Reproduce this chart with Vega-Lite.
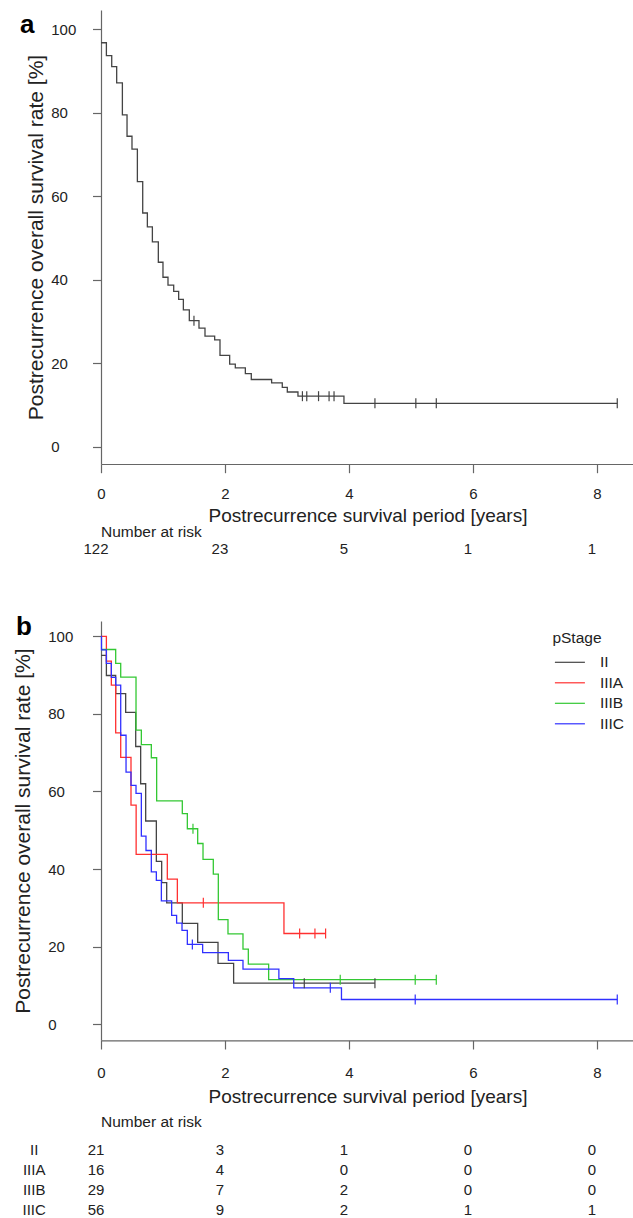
{
  "$schema": "https://vega.github.io/schema/vega-lite/v6.json",
  "background": "white",
  "padding": {"left": 12, "top": 10, "right": 0, "bottom": 0},
  "bounds": "flush",
  "spacing": 60,
  "resolve": {"scale": {"color": "independent", "stroke": "independent"}, "legend": {"color": "independent", "stroke": "independent"}},
  "config": {
    "font": "Liberation Sans",
    "view": {"stroke": null},
    "axis": {"grid": false, "domainColor": "#666666", "tickColor": "#666666", "domainWidth": 1.2, "tickWidth": 1.2, "labelColor": "#222222", "titleColor": "#222222", "labelFontSize": 15, "titleFontWeight": "normal", "labelFlush": false, "labelOverlap": false},
    "legend": {"titleFontWeight": "normal", "titleColor": "#222222", "labelColor": "#222222"},
    "title": {"color": "#000000"}
  },
  "datasets": {
    "ka": [
      {"t": 0, "s": 96.8}, {"t": 0.087, "s": 93.7}, {"t": 0.173, "s": 91.1}, {"t": 0.253, "s": 87.2},
      {"t": 0.345, "s": 79.5}, {"t": 0.42, "s": 74.4}, {"t": 0.5, "s": 71.3}, {"t": 0.587, "s": 63.5},
      {"t": 0.673, "s": 56.0}, {"t": 0.748, "s": 52.7}, {"t": 0.829, "s": 49.1}, {"t": 0.925, "s": 44.2},
      {"t": 1.0, "s": 40.6}, {"t": 1.081, "s": 38.7}, {"t": 1.173, "s": 37.2}, {"t": 1.253, "s": 35.3},
      {"t": 1.329, "s": 32.8}, {"t": 1.425, "s": 30.2}, {"t": 1.581, "s": 28.4}, {"t": 1.678, "s": 26.5},
      {"t": 1.834, "s": 25.6}, {"t": 1.92, "s": 21.9}, {"t": 2.076, "s": 19.8}, {"t": 2.167, "s": 18.9},
      {"t": 2.329, "s": 17.5}, {"t": 2.425, "s": 16.1}, {"t": 2.753, "s": 15.3}, {"t": 2.925, "s": 14.2},
      {"t": 3.006, "s": 13.1}, {"t": 3.178, "s": 12.1}, {"t": 3.92, "s": 10.4}, {"t": 8.33, "s": 10.4}
    ],
    "ca": [
      {"t": 1.5, "s": 30.2}, {"t": 3.25, "s": 12.1}, {"t": 3.32, "s": 12.1}, {"t": 3.51, "s": 12.1},
      {"t": 3.68, "s": 12.1}, {"t": 3.76, "s": 12.1}, {"t": 4.42, "s": 10.4}, {"t": 5.08, "s": 10.4},
      {"t": 5.41, "s": 10.4}, {"t": 8.33, "s": 10.4}
    ],
    "kb": [
      {"stage": "II", "t": 0, "s": 95.1}, {"stage": "II", "t": 0.087, "s": 89.9}, {"stage": "II", "t": 0.237, "s": 85.2},
      {"stage": "II", "t": 0.398, "s": 80.4}, {"stage": "II", "t": 0.56, "s": 71.6}, {"stage": "II", "t": 0.64, "s": 62.0},
      {"stage": "II", "t": 0.721, "s": 52.4}, {"stage": "II", "t": 0.893, "s": 42.0}, {"stage": "II", "t": 0.979, "s": 36.5},
      {"stage": "II", "t": 1.06, "s": 31.3}, {"stage": "II", "t": 1.312, "s": 26.0}, {"stage": "II", "t": 1.56, "s": 21.1},
      {"stage": "II", "t": 1.888, "s": 15.7}, {"stage": "II", "t": 2.14, "s": 10.6}, {"stage": "II", "t": 4.42, "s": 10.6},
      {"stage": "IIIA", "t": 0, "s": 100}, {"stage": "IIIA", "t": 0.087, "s": 93.6}, {"stage": "IIIA", "t": 0.167, "s": 87.4},
      {"stage": "IIIA", "t": 0.237, "s": 75.1}, {"stage": "IIIA", "t": 0.318, "s": 68.8}, {"stage": "IIIA", "t": 0.484, "s": 56.5},
      {"stage": "IIIA", "t": 0.567, "s": 43.8}, {"stage": "IIIA", "t": 1.07, "s": 37.4}, {"stage": "IIIA", "t": 1.232, "s": 31.3},
      {"stage": "IIIA", "t": 2.952, "s": 23.4}, {"stage": "IIIA", "t": 3.624, "s": 23.4},
      {"stage": "IIIB", "t": 0, "s": 96.6}, {"stage": "IIIB", "t": 0.237, "s": 93.0}, {"stage": "IIIB", "t": 0.318, "s": 89.5},
      {"stage": "IIIB", "t": 0.565, "s": 75.8}, {"stage": "IIIB", "t": 0.651, "s": 72.1}, {"stage": "IIIB", "t": 0.812, "s": 68.7},
      {"stage": "IIIB", "t": 0.898, "s": 57.6}, {"stage": "IIIB", "t": 1.312, "s": 54.3}, {"stage": "IIIB", "t": 1.393, "s": 50.4},
      {"stage": "IIIB", "t": 1.56, "s": 46.6}, {"stage": "IIIB", "t": 1.646, "s": 42.5}, {"stage": "IIIB", "t": 1.812, "s": 38.7},
      {"stage": "IIIB", "t": 1.893, "s": 27.0}, {"stage": "IIIB", "t": 2.049, "s": 23.3}, {"stage": "IIIB", "t": 2.291, "s": 19.4},
      {"stage": "IIIB", "t": 2.377, "s": 15.5}, {"stage": "IIIB", "t": 2.705, "s": 11.5}, {"stage": "IIIB", "t": 5.41, "s": 11.5},
      {"stage": "IIIC", "t": 0, "s": 100}, {"stage": "IIIC", "t": 0.008, "s": 96.5}, {"stage": "IIIC", "t": 0.087, "s": 93.0},
      {"stage": "IIIC", "t": 0.167, "s": 89.4}, {"stage": "IIIC", "t": 0.237, "s": 87.4}, {"stage": "IIIC", "t": 0.318, "s": 74.5},
      {"stage": "IIIC", "t": 0.404, "s": 65.0}, {"stage": "IIIC", "t": 0.484, "s": 61.6}, {"stage": "IIIC", "t": 0.565, "s": 59.5},
      {"stage": "IIIC", "t": 0.651, "s": 48.5}, {"stage": "IIIC", "t": 0.726, "s": 44.8}, {"stage": "IIIC", "t": 0.812, "s": 39.3},
      {"stage": "IIIC", "t": 0.893, "s": 37.1}, {"stage": "IIIC", "t": 0.974, "s": 31.8}, {"stage": "IIIC", "t": 1.14, "s": 28.1},
      {"stage": "IIIC", "t": 1.22, "s": 26.1}, {"stage": "IIIC", "t": 1.307, "s": 24.2}, {"stage": "IIIC", "t": 1.393, "s": 20.6},
      {"stage": "IIIC", "t": 1.64, "s": 18.5}, {"stage": "IIIC", "t": 2.055, "s": 16.5}, {"stage": "IIIC", "t": 2.291, "s": 14.2},
      {"stage": "IIIC", "t": 2.87, "s": 11.8}, {"stage": "IIIC", "t": 3.11, "s": 9.4}, {"stage": "IIIC", "t": 3.88, "s": 6.4},
      {"stage": "IIIC", "t": 8.33, "s": 6.4}
    ],
    "cb": [
      {"stage": "II", "t": 3.28, "s": 10.6}, {"stage": "II", "t": 4.42, "s": 10.6},
      {"stage": "IIIA", "t": 1.651, "s": 31.3}, {"stage": "IIIA", "t": 3.205, "s": 23.4}, {"stage": "IIIA", "t": 3.452, "s": 23.4}, {"stage": "IIIA", "t": 3.624, "s": 23.4},
      {"stage": "IIIB", "t": 1.484, "s": 50.4}, {"stage": "IIIB", "t": 3.86, "s": 11.5}, {"stage": "IIIB", "t": 5.07, "s": 11.5}, {"stage": "IIIB", "t": 5.41, "s": 11.5},
      {"stage": "IIIC", "t": 1.474, "s": 20.6}, {"stage": "IIIC", "t": 3.7, "s": 9.4}, {"stage": "IIIC", "t": 5.07, "s": 6.4}, {"stage": "IIIC", "t": 8.33, "s": 6.4}
    ],
    "ra": [
      {"t": 0, "n": 122}, {"t": 2, "n": 23}, {"t": 4, "n": 5}, {"t": 6, "n": 1}, {"t": 8, "n": 1}
    ],
    "rb": [
      {"stage": "II", "t": 0, "n": 21}, {"stage": "II", "t": 2, "n": 3}, {"stage": "II", "t": 4, "n": 1}, {"stage": "II", "t": 6, "n": 0}, {"stage": "II", "t": 8, "n": 0},
      {"stage": "IIIA", "t": 0, "n": 16}, {"stage": "IIIA", "t": 2, "n": 4}, {"stage": "IIIA", "t": 4, "n": 0}, {"stage": "IIIA", "t": 6, "n": 0}, {"stage": "IIIA", "t": 8, "n": 0},
      {"stage": "IIIB", "t": 0, "n": 29}, {"stage": "IIIB", "t": 2, "n": 7}, {"stage": "IIIB", "t": 4, "n": 2}, {"stage": "IIIB", "t": 6, "n": 0}, {"stage": "IIIB", "t": 8, "n": 0},
      {"stage": "IIIC", "t": 0, "n": 56}, {"stage": "IIIC", "t": 2, "n": 9}, {"stage": "IIIC", "t": 4, "n": 2}, {"stage": "IIIC", "t": 6, "n": 1}, {"stage": "IIIC", "t": 8, "n": 1}
    ]
  },
  "vconcat": [
    {
      "width": 533,
      "height": 454,
      "title": {"text": "a", "anchor": "start", "frame": "group", "dx": -81, "offset": -49, "baseline": "alphabetic", "fontSize": 26, "fontWeight": "bold"},
      "layer": [
        {
          "data": {"name": "ka"},
          "mark": {"type": "line", "interpolate": "step-after", "color": "#444444", "strokeWidth": 1.3},
          "encoding": {
            "x": {"field": "t", "type": "quantitative", "scale": {"domain": [0, 8.6], "nice": false, "zero": false},
              "axis": {"values": [0, 2, 4, 6, 8], "format": "d", "title": "Postrecurrence survival period [years]", "titleFontSize": 19, "tickSize": 8.7, "labelPadding": 13.7, "labelDx": -4.5, "titlePadding": 5.5}},
            "y": {"field": "s", "type": "quantitative", "scale": {"domain": [-4.15, 104.65], "nice": false, "zero": false},
              "axis": {"values": [0, 20, 40, 60, 80, 100], "format": "d", "title": "Postrecurrence overall survival rate [%]", "titleFontSize": 21, "titleX": -65, "titleY": 227, "titleAngle": 270, "titleBaseline": "middle", "titleAlign": "center", "tickSize": 8.5, "labelPadding": 41.8, "labelAlign": "left", "labelDy": 3.5}}
          }
        },
        {
          "data": {"name": "ca"},
          "mark": {"type": "point", "shape": "M0,-1V1", "size": 100, "filled": false, "color": "#444444", "strokeWidth": 1.2, "opacity": 1},
          "encoding": {
            "x": {"field": "t", "type": "quantitative"},
            "y": {"field": "s", "type": "quantitative"}
          }
        }
      ]
    },
    {
      "width": 533,
      "height": 36.7,
      "title": {"text": "Number at risk", "anchor": "start", "frame": "group", "baseline": "alphabetic", "offset": -28.5, "fontSize": 15.5, "fontWeight": "normal", "color": "#222222"},
      "data": {"name": "ra"},
      "mark": {"type": "text", "fontSize": 15, "dx": -5, "dy": 7, "baseline": "middle", "align": "center", "color": "#222222"},
      "encoding": {
        "x": {"field": "t", "type": "quantitative", "scale": {"domain": [0, 8.6], "nice": false, "zero": false}, "axis": null},
        "text": {"field": "n", "type": "quantitative"}
      }
    },
    {
      "width": 533,
      "height": 419.3,
      "title": {"text": "b", "anchor": "start", "frame": "group", "dx": -85, "offset": -40.3, "baseline": "alphabetic", "fontSize": 26, "fontWeight": "bold"},
      "layer": [
        {
          "data": {"name": "kb"},
          "mark": {"type": "line", "interpolate": "step-after", "strokeWidth": 1.3},
          "encoding": {
            "x": {"field": "t", "type": "quantitative", "scale": {"domain": [0, 8.6], "nice": false, "zero": false},
              "axis": {"values": [0, 2, 4, 6, 8], "format": "d", "title": "Postrecurrence survival period [years]", "titleFontSize": 19, "tickSize": 8.7, "labelPadding": 16.7, "labelDx": -4.5, "titlePadding": 6.5}},
            "y": {"field": "s", "type": "quantitative", "scale": {"domain": [-4.12, 103.94], "nice": false, "zero": false},
              "axis": {"values": [0, 20, 40, 60, 80, 100], "format": "d", "title": "Postrecurrence overall survival rate [%]", "titleFontSize": 21, "titleX": -77.3, "titleY": 209.65, "titleAngle": 270, "titleBaseline": "middle", "titleAlign": "center", "tickSize": 8.5, "labelPadding": 44.8, "labelAlign": "left", "labelDy": 3.5}},
            "color": {"field": "stage", "type": "nominal",
              "scale": {"domain": ["II", "IIIA", "IIIB", "IIIC"], "range": ["#444444", "#ff3030", "#33c833", "#3030ff"]},
              "legend": {"orient": "none", "legendX": 451.4, "legendY": 10.1, "title": "pStage", "titleFontSize": 15.5, "labelFontSize": 15.5, "symbolType": "M-1.765,0H1.765", "symbolSize": 289, "symbolStrokeWidth": 1.2, "symbolOffset": 8, "labelOffset": 20.5, "titlePadding": 6.2, "rowPadding": 2.5, "padding": 0}}
          }
        },
        {
          "data": {"name": "cb"},
          "mark": {"type": "point", "shape": "M0,-1V1", "size": 100, "filled": false, "strokeWidth": 1.2, "opacity": 1},
          "encoding": {
            "x": {"field": "t", "type": "quantitative"},
            "y": {"field": "s", "type": "quantitative"},
            "stroke": {"field": "stage", "type": "nominal",
              "scale": {"domain": ["II", "IIIA", "IIIB", "IIIC"], "range": ["#444444", "#ff3030", "#33c833", "#3030ff"]},
              "legend": null}
          }
        }
      ]
    },
    {
      "width": 533,
      "height": 118.5,
      "title": {"text": "Number at risk", "anchor": "start", "frame": "group", "baseline": "alphabetic", "offset": -41.8, "fontSize": 15.5, "fontWeight": "normal", "color": "#222222"},
      "data": {"name": "rb"},
      "mark": {"type": "text", "fontSize": 15, "dx": -5, "baseline": "middle", "align": "center", "color": "#222222"},
      "encoding": {
        "x": {"field": "t", "type": "quantitative", "scale": {"domain": [0, 8.6], "nice": false, "zero": false}, "axis": null},
        "y": {"field": "stage", "type": "nominal", "sort": ["II", "IIIA", "IIIB", "IIIC"],
          "scale": {"type": "band", "paddingInner": 0, "paddingOuter": 1.1184, "align": 1},
          "axis": {"title": null, "domain": false, "ticks": false, "labelPadding": 67.3, "labelAlign": "center", "labelFontSize": 15, "labelColor": "#222222"}},
        "text": {"field": "n", "type": "quantitative"}
      }
    }
  ]
}
